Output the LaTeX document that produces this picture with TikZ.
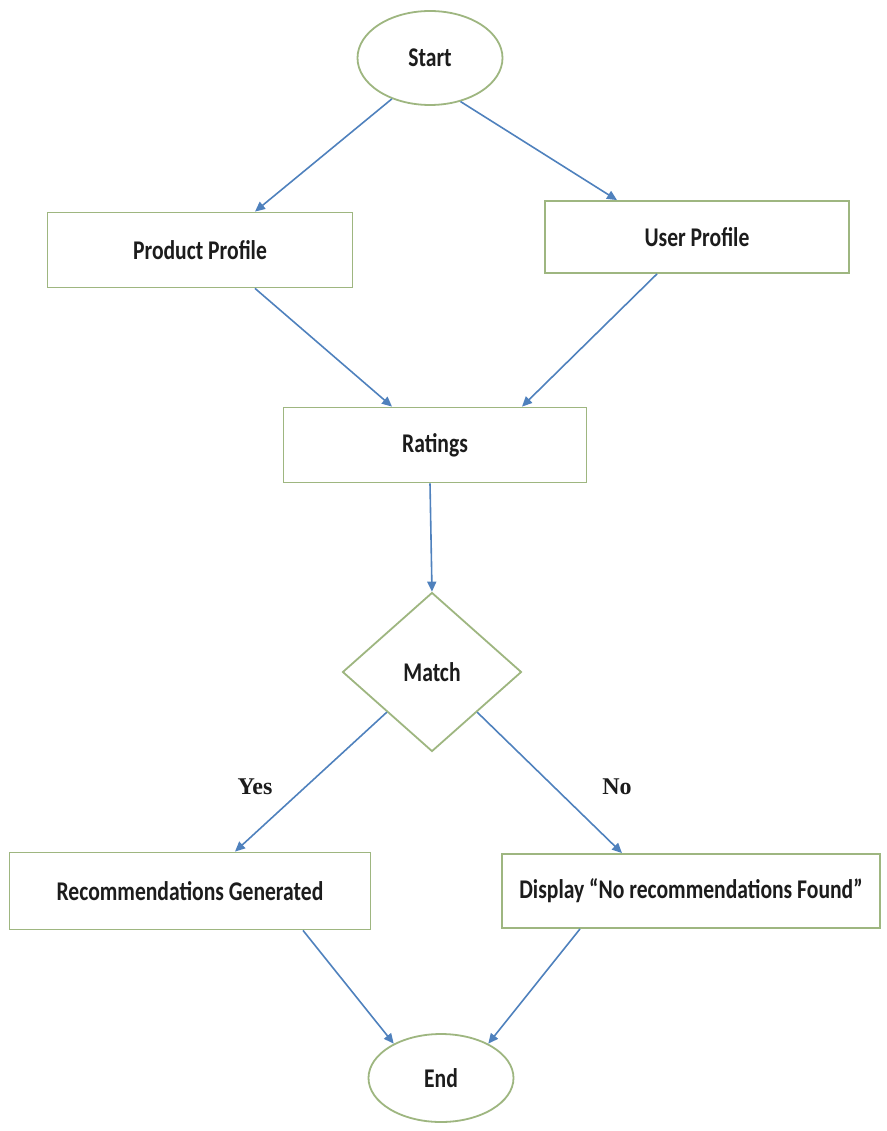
\documentclass[tikz,border=0pt]{standalone}
\usepackage{fontspec}
\setmainfont{Carlito}[FakeStretch=0.8]
\newfontfamily\labelfont{Liberation Serif}
\usepackage{tikz}
\usetikzlibrary{shapes.geometric}
\usetikzlibrary{positioning}
\usetikzlibrary{arrows.meta}
\definecolor{boxgreen}{RGB}{158,182,128}
\definecolor{flowblue}{RGB}{79,129,189}
\definecolor{inkgray}{RGB}{28,28,28}
\tikzset{every node/.style={ % Sets the text of each node
      font=\fontsize{27}{31}\selectfont\bfseries,
      text=inkgray},
      terminal/.style={ % Start and End ovals
      ellipse, draw=boxgreen, line width=1.8pt, fill=white,
      minimum width=145pt, minimum height=94pt, inner sep=0pt},
      process/.style={ % Plain boxes
      rectangle, draw=boxgreen, line width=1.8pt, fill=white,
      minimum height=75pt, inner sep=0pt},
      decision/.style={ % The match test
      diamond, draw=boxgreen, line width=1.8pt, fill=white,
      minimum width=179pt, minimum height=159pt, inner sep=0pt},
      answer/.style={ % Yes / No labels
      font=\labelfont\fontsize{24}{28}\selectfont\bfseries},
      flow/.style={ % Sets the properties for each arrow
      draw=flowblue, line width=1.6pt,
      -{Triangle[length=10pt, width=9pt]}}}

\begin{document}
\begin{tikzpicture}[x=1pt, y=-1pt]
      \useasboundingbox (0,0) rectangle (886,1131);
      \node[terminal] (start) at (430,58) {Start};
      \node[process, minimum width=305pt] (pp) at (200,250) {Product Profile};
      \node[process, minimum width=304pt, minimum height=72pt] (up) at (697,237) {User Profile};
      \node[process, minimum width=303pt] (rat) at (435,445) {Ratings};
      \node[decision] (match) at (432,672) {Match};
      \node[process, minimum width=361pt, minimum height=77pt] (rec) at (190,891) {Recommendations Generated};
      \node[process, minimum width=378pt, minimum height=74pt] (disp) at (691,891) {Display ``No recommendations Found''};
      \node[terminal, minimum height=88pt] (end) at (441,1078) {End};
      \node[answer] (yes) at (255,787) {Yes};
      \node[answer] (no) at (617,787) {No};
      \draw[flow] (start.227) -- ([xshift=55pt]pp.north);
      \draw[flow] (start.-55) -- ([xshift=-80pt]up.north);
      \draw[flow] ([xshift=55pt]pp.south) -- ([xshift=-43pt]rat.north);
      \draw[flow] ([xshift=-40pt]up.south) -- ([xshift=87pt]rat.north);
      \draw[flow] ([xshift=-5pt]rat.south) -- (match.north);
      \draw[flow] (match.south west) -- ([xshift=45pt]rec.north);
      \draw[flow] (match.south east) -- ([xshift=-69pt]disp.north);
      \draw[flow] ([xshift=113pt]rec.south) -- (end.144);
      \draw[flow] ([xshift=-111pt]disp.south) -- (end.36);
    \end{tikzpicture}
\end{document}
